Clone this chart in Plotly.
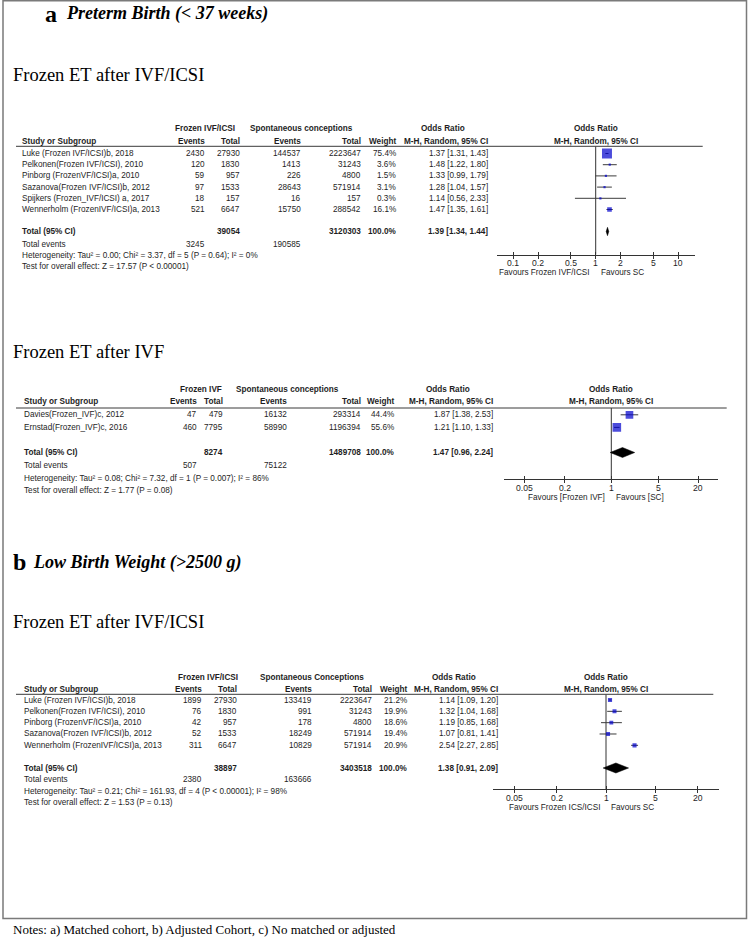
import math
import plotly.graph_objects as go

# ---------------- DATA ----------------
# Panel a (1): Preterm birth - Frozen ET after IVF/ICSI
a1_studies = ["Luke (Frozen IVF/ICSI)b, 2018", "Pelkonen(Frozen IVF/ICSI), 2010",
              "Pinborg (FrozenVF/ICSI)a, 2010", "Sazanova(Frozen IVF/ICSI)b, 2012",
              "Spijkers (Frozen_IVF/ICSI) a, 2017", "Wennerholm (FrozenIVF/ICSI)a, 2013"]
a1_ev1 = [2430, 120, 59, 97, 18, 521]
a1_tot1 = [27930, 1830, 957, 1533, 157, 6647]
a1_ev2 = [144537, 1413, 226, 28643, 16, 15750]
a1_tot2 = [2223647, 31243, 4800, 571914, 157, 288542]
a1_weight = [75.4, 3.6, 1.5, 3.1, 0.3, 16.1]
a1_or = [1.37, 1.48, 1.33, 1.28, 1.14, 1.47]
a1_lo = [1.31, 1.22, 0.99, 1.04, 0.56, 1.35]
a1_hi = [1.43, 1.80, 1.79, 1.57, 2.33, 1.61]
a1_totals = [39054, 3120303]
a1_total_events = [3245, 190585]
a1_pooled = [1.39, 1.34, 1.44]
a1_het = "Heterogeneity: Tau² = 0.00; Chi² = 3.37, df = 5 (P = 0.64); I² = 0%"
a1_test = "Test for overall effect: Z = 17.57 (P < 0.00001)"
a1_ticks = [0.1, 0.2, 0.5, 1, 2, 5, 10]

# Panel a (2): Preterm birth - Frozen ET after IVF
a2_studies = ["Davies(Frozen_IVF)c, 2012", "Ernstad(Frozen_IVF)c, 2016"]
a2_ev1 = [47, 460]
a2_tot1 = [479, 7795]
a2_ev2 = [16132, 58990]
a2_tot2 = [293314, 1196394]
a2_weight = [44.4, 55.6]
a2_or = [1.87, 1.21]
a2_lo = [1.38, 1.10]
a2_hi = [2.53, 1.33]
a2_totals = [8274, 1489708]
a2_total_events = [507, 75122]
a2_pooled = [1.47, 0.96, 2.24]
a2_het = "Heterogeneity: Tau² = 0.08; Chi² = 7.32, df = 1 (P = 0.007); I² = 86%"
a2_test = "Test for overall effect: Z = 1.77 (P = 0.08)"
a2_ticks = [0.05, 0.2, 1, 5, 20]

# Panel b: Low birth weight - Frozen ET after IVF/ICSI
b_studies = ["Luke (Frozen IVF/ICSI)b, 2018", "Pelkonen(Frozen IVF/ICSI), 2010",
             "Pinborg (FrozenVF/ICSI)a, 2010", "Sazanova(Frozen IVF/ICSI)b, 2012",
             "Wennerholm (FrozenIVF/ICSI)a, 2013"]
b_ev1 = [1899, 76, 42, 52, 311]
b_tot1 = [27930, 1830, 957, 1533, 6647]
b_ev2 = [133419, 991, 178, 18249, 10829]
b_tot2 = [2223647, 31243, 4800, 571914, 571914]
b_weight = [21.2, 19.9, 18.6, 19.4, 20.9]
b_or = [1.14, 1.32, 1.19, 1.07, 2.54]
b_lo = [1.09, 1.04, 0.85, 0.81, 2.27]
b_hi = [1.20, 1.68, 1.68, 1.41, 2.85]
b_totals = [38897, 3403518]
b_total_events = [2380, 163666]
b_pooled = [1.38, 0.91, 2.09]
b_het = "Heterogeneity: Tau² = 0.21; Chi² = 161.93, df = 4 (P < 0.00001); I² = 98%"
b_test = "Test for overall effect: Z = 1.53 (P = 0.13)"
b_ticks = [0.05, 0.2, 1, 5, 20]

# ---------------- LAYOUT HELPERS ----------------
W, H = 750, 942
SANS = "Liberation Sans, Arial, sans-serif"
SERIF = "Liberation Serif, Times New Roman, serif"
TXT = "#1e1e1e"
FS = 8.2

annotations = []
shapes = []
traces = []
layout_axes = {}


def px(x):
    return x / W


def py(y):
    return 1 - y / H


def text(x, y, s, anchor="left", size=FS, bold=False, family=SANS, color=TXT, italic=False):
    if bold:
        s = "<b>" + s + "</b>"
    if italic:
        s = "<i>" + s + "</i>"
    annotations.append(dict(x=px(x), y=py(y), xref="paper", yref="paper", text=s,
                            showarrow=False, xanchor=anchor, yanchor="middle",
                            borderpad=0, font=dict(family=family, size=size, color=color)))


def hline(x0, x1, y, color="#3a3a3a", width=1):
    shapes.append(dict(type="line", xref="paper", yref="paper", x0=px(x0), x1=px(x1),
                       y0=py(y), y1=py(y), line=dict(color=color, width=width)))


def panel(i, d, L):
    xa = "x" if i == 1 else f"x{i}"
    ya = "y" if i == 1 else f"y{i}"
    xo = f"x{i + 3}"
    # table header
    text(L["g1"], L["h1"], d["grp1"], "center", bold=True)
    text(L["g2"], L["h1"], d["grp2"], "center", bold=True)
    text(L["orc"], L["h1"], "Odds Ratio", "center", bold=True)
    x0, x1 = L["dom"]
    null_px = (x0 + x1) / 2
    text(null_px, L["h1"], "Odds Ratio", "center", bold=True)
    c = L["cols"]
    text(L["xs"], L["h2"], "Study or Subgroup", bold=True)
    for key, lab in [("e1", "Events"), ("t1", "Total"), ("e2", "Events"), ("t2", "Total"),
                     ("w", "Weight"), ("ci", "M-H, Random, 95% CI")]:
        text(c[key], L["h2"], lab, "right", bold=True)
    text(null_px, L["h2"], "M-H, Random, 95% CI", "center", bold=True)
    hline(L["lx0"], L["lx1"], L["line"])

    ys = [L["r0"] + k * L["dy"] for k in range(len(d["studies"]))]
    for k, y in enumerate(ys):
        text(L["xs"], y, d["studies"][k])
        text(c["e1"], y, str(d["ev1"][k]), "right")
        text(c["t1"], y, str(d["tot1"][k]), "right")
        text(c["e2"], y, str(d["ev2"][k]), "right")
        text(c["t2"], y, str(d["tot2"][k]), "right")
        text(c["w"], y, f"{d['weight'][k]:.1f}%", "right")
        text(c["ci"], y, f"{d['or'][k]:.2f} [{d['lo'][k]:.2f}, {d['hi'][k]:.2f}]", "right")
    yt = L["tot"]
    p = d["pooled"]
    text(L["xs"], yt, "Total (95% CI)", bold=True)
    text(c["t1"], yt, str(d["totals"][0]), "right", bold=True)
    text(c["t2"], yt, str(d["totals"][1]), "right", bold=True)
    text(c["w"], yt, "100.0%", "right", bold=True)
    text(c["ci"], yt, f"{p[0]:.2f} [{p[1]:.2f}, {p[2]:.2f}]", "right", bold=True)
    fe, fh, ft = L["foot"]
    text(L["xs"], fe, "Total events")
    text(c["e1"], fe, str(d["total_events"][0]), "right")
    text(c["e2"], fe, str(d["total_events"][1]), "right")
    text(L["xs"], fh, d["het"])
    text(L["xs"], ft, d["test"])
    text(null_px - 5, L["fav"], d["fav_left"], "right")
    text(null_px + 4, L["fav"], d["fav_right"], "left")

    # tick labels (annotations on the log axis: positions given as log10 of the tick value)
    for t in d["ticks"]:
        annotations.append(dict(x=math.log10(t), xref=xa, y=py(L["axis"] + L["tl"]),
                                yref="paper", text="%g" % t, showarrow=False,
                                xanchor="center", yanchor="middle", borderpad=0,
                                font=dict(family=SANS, size=FS + 0.4, color=TXT)))

    # forest plot marks
    ci_x, ci_y = [], []
    for k, y in enumerate(ys):
        ci_x += [d["lo"][k], d["hi"][k], None]
        ci_y += [y, y, None]
    traces.append(go.Scatter(x=[1, 1], y=[L["line"], L["axis"]], mode="lines",
                             line=dict(color="#333333", width=1), xaxis=xa, yaxis=ya,
                             hoverinfo="skip", showlegend=False))
    traces.append(go.Scatter(x=ci_x, y=ci_y, mode="lines", line=dict(color="#3c3c3c", width=1),
                             xaxis=xa, yaxis=ya, hoverinfo="skip", showlegend=False))
    sizes = [max(L["sq"] * w ** 0.5, 2.2) for w in d["weight"]]
    traces.append(go.Scatter(x=d["or"], y=ys, mode="markers",
                             marker=dict(symbol="square", size=sizes, color="#0000cc",
                                         line=dict(width=0)),
                             xaxis=xa, yaxis=ya, hoverinfo="skip", showlegend=False))
    hh = L["dh"]
    traces.append(go.Scatter(x=[p[1], p[0], p[2], p[0], p[1]], y=[yt, yt - hh, yt, yt + hh, yt],
                             mode="lines", fill="toself", fillcolor="#000000",
                             line=dict(color="#000000", width=0.5),
                             xaxis=xa, yaxis=ya, hoverinfo="skip", showlegend=False))
    traces.append(go.Scatter(x=[1], y=[L["axis"]], mode="markers", marker=dict(opacity=0),
                             xaxis=xo, yaxis=ya, hoverinfo="skip", showlegend=False))
    r = L["xr"]
    axis_common = dict(type="log", range=[-r, r], tickvals=d["ticks"], showgrid=False,
                       zeroline=False, showticklabels=False, ticklen=3, tickwidth=1,
                       tickcolor="#333333")
    layout_axes["xaxis" if i == 1 else f"xaxis{i}"] = dict(
        domain=[px(x0), px(x1)], anchor=ya, ticks="outside",
        showline=True, linecolor="#333333", linewidth=1, **axis_common)
    layout_axes[f"xaxis{i + 3}"] = dict(
        overlaying=xa, anchor=ya, ticks="inside", showline=False, **axis_common)
    layout_axes["yaxis" if i == 1 else f"yaxis{i}"] = dict(
        domain=[py(L["axis"]), py(L["line"])], range=[L["axis"], L["line"]], visible=False,
        anchor=xa)


# ---------------- PANELS ----------------
panel(1, dict(studies=a1_studies, ev1=a1_ev1, tot1=a1_tot1, ev2=a1_ev2, tot2=a1_tot2,
              weight=a1_weight, **{"or": a1_or}, lo=a1_lo, hi=a1_hi,
              totals=a1_totals, total_events=a1_total_events, pooled=a1_pooled,
              het=a1_het, test=a1_test, ticks=a1_ticks,
              grp1="Frozen IVF/ICSI", grp2="Spontaneous conceptions",
              fav_left="Favours Frozen IVF/ICSI", fav_right="Favours SC"),
      dict(h1=129, h2=141.3, line=146.3, r0=153.5, dy=11.2, tot=231.5,
           foot=(244.5, 255.7, 266.7), axis=254.7, tl=8.5, fav=272.5, xs=20.7,
           cols=dict(e1=205.7, t1=241.3, e2=302.3, t2=362, w=397.3, ci=489),
           g1=204.5, g2=301, orc=443, dom=(496.7, 694.7), xr=1.2, lx0=16, lx1=702.7,
           sq=1.15, dh=4.2))

panel(2, dict(studies=a2_studies, ev1=a2_ev1, tot1=a2_tot1, ev2=a2_ev2, tot2=a2_tot2,
              weight=a2_weight, **{"or": a2_or}, lo=a2_lo, hi=a2_hi,
              totals=a2_totals, total_events=a2_total_events, pooled=a2_pooled,
              het=a2_het, test=a2_test, ticks=a2_ticks,
              grp1="Frozen IVF", grp2="Spontaneous conceptions",
              fav_left="Favours [Frozen IVF]", fav_right="Favours [SC]"),
      dict(h1=389, h2=401.5, line=408, r0=414.8, dy=12.6, tot=452.5,
           foot=(465.5, 478, 490.5), axis=479, tl=9, fav=497.5, xs=22.7,
           cols=dict(e1=198, t1=224, e2=288.3, t2=362, w=395.3, ci=494),
           g1=201, g2=287.3, orc=447.5, dom=(504.4, 718.2), xr=1.6, lx0=16, lx1=726.7,
           sq=1.15, dh=5))

panel(3, dict(studies=b_studies, ev1=b_ev1, tot1=b_tot1, ev2=b_ev2, tot2=b_tot2,
              weight=b_weight, **{"or": b_or}, lo=b_lo, hi=b_hi,
              totals=b_totals, total_events=b_total_events, pooled=b_pooled,
              het=b_het, test=b_test, ticks=b_ticks,
              grp1="Frozen IVF/ICSI", grp2="Spontaneous Conceptions",
              fav_left="Favours Frozen ICS/ICSI", fav_right="Favours SC"),
      dict(h1=677.7, h2=689, line=694.3, r0=700, dy=11.33, tot=768,
           foot=(779.5, 791, 802.5), axis=789.3, tl=9, fav=807.5, xs=22.7,
           cols=dict(e1=203, t1=238, e2=312.5, t2=372.7, w=408.3, ci=499.3),
           g1=208, g2=312, orc=453.8, dom=(493.2, 718.8), xr=1.6, lx0=16, lx1=713.3,
           sq=0.9, dh=5))

# ---------------- TITLES / NOTES ----------------
text(51, 14, "a", "center", size=24, bold=True, family=SERIF, color="#000")
text(65, 14, "Preterm Birth (< 37 weeks)", "left", size=18, bold=True, italic=True,
     family=SERIF, color="#000")
text(11.7, 75, "Frozen ET after IVF/ICSI", "left", size=18.5, family=SERIF, color="#000")
text(11.7, 352, "Frozen ET after IVF", "left", size=18.5, family=SERIF, color="#000")
text(19, 562, "b", "center", size=24, bold=True, family=SERIF, color="#000")
text(31.7, 562, "Low Birth Weight (>2500 g)", "left", size=18, bold=True, italic=True,
     family=SERIF, color="#000")
text(11.7, 622, "Frozen ET after IVF/ICSI", "left", size=18.5, family=SERIF, color="#000")
text(12, 929, "Notes: a) Matched cohort, b) Adjusted Cohort, c) No matched or adjusted",
     "left", size=13, family=SERIF, color="#000")

# border box
shapes.append(dict(type="rect", xref="paper", yref="paper", x0=px(3), x1=px(746.5),
                   y0=py(918.5), y1=py(0.8), line=dict(color="#7a7a7a", width=1.5)))

fig = go.Figure(data=traces)
fig.update_layout(width=W, height=H, margin=dict(l=0, r=0, t=0, b=0),
                  paper_bgcolor="white", plot_bgcolor="rgba(0,0,0,0)",
                  showlegend=False, annotations=annotations, shapes=shapes, **layout_axes)
fig.write_html("out.html", config={"displayModeBar": False},
               post_script="document.body.style.margin='0px';")
